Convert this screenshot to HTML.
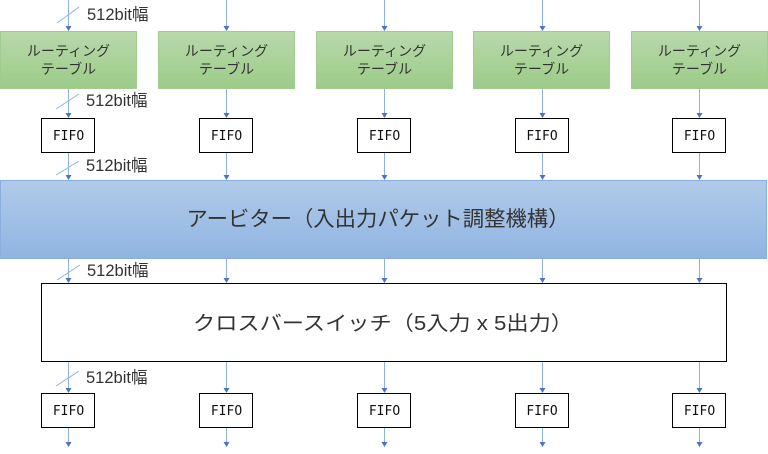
<!DOCTYPE html>
<html><head><meta charset="utf-8"><style>
html,body{margin:0;padding:0;background:#fff;}
svg{display:block;}
text{font-family:"Liberation Sans","Noto Sans CJK JP",sans-serif;fill:#333;}
.mono{font-family:"DejaVu Sans Mono","Liberation Mono",monospace;fill:#111;}
</style></head><body>
<svg width="768" height="454" viewBox="0 0 768 454" xmlns="http://www.w3.org/2000/svg">
<defs>
<linearGradient id="g" x1="0" y1="0" x2="0" y2="1"><stop offset="0" stop-color="#b9d9ab"/><stop offset="1" stop-color="#9ccb88"/></linearGradient>
<linearGradient id="b" x1="0" y1="0" x2="0" y2="1"><stop offset="0" stop-color="#b0cbea"/><stop offset="1" stop-color="#90b4e1"/></linearGradient>
</defs>
<g id="c">
<g stroke="#8fb0e6" stroke-width="1" fill="none">
<line x1="68.5" y1="0" x2="68.5" y2="27"/>
<line x1="68.5" y1="88" x2="68.5" y2="114"/>
<line x1="68.5" y1="152" x2="68.5" y2="176"/>
<line x1="68.5" y1="259" x2="68.5" y2="279"/>
<line x1="68.5" y1="362" x2="68.5" y2="389"/>
<line x1="68.5" y1="428" x2="68.5" y2="443"/>
</g>
<g fill="#4a74c6">
<polygon points="65.5,26 71.5,26 68.5,31"/>
<polygon points="65.5,113 71.5,113 68.5,118"/>
<polygon points="65.5,175 71.5,175 68.5,180"/>
<polygon points="65.5,278 71.5,278 68.5,283"/>
<polygon points="65.5,388 71.5,388 68.5,393"/>
<polygon points="65.5,442 71.5,442 68.5,447"/>
</g>
</g>
<use href="#c" x="158"/>
<use href="#c" x="316"/>
<use href="#c" x="474"/>
<use href="#c" x="631"/>
<g stroke="#8fb0e6" stroke-width="1" fill="none">
<line x1="57" y1="23" x2="79" y2="7"/>
<line x1="56" y1="109" x2="79" y2="94"/>
<line x1="56" y1="175" x2="79" y2="161"/>
<line x1="57" y1="280" x2="80" y2="265"/>
<line x1="56" y1="386" x2="79" y2="371"/>
</g>
<!-- routing tables -->
<g stroke="#a2cb92" stroke-width="1" fill="url(#g)">
<rect x="0.5" y="31.5" width="136" height="57"/>
<rect x="158.5" y="31.5" width="136" height="57"/>
<rect x="316.5" y="31.5" width="136" height="57"/>
<rect x="473.5" y="31.5" width="136" height="57"/>
<rect x="631.5" y="31.5" width="136" height="57"/>
</g>
<g font-size="14" text-anchor="middle">
<text x="68.5" y="56">ルーティング</text><text x="68.5" y="74">テーブル</text>
<text x="226.5" y="56">ルーティング</text><text x="226.5" y="74">テーブル</text>
<text x="384.5" y="56">ルーティング</text><text x="384.5" y="74">テーブル</text>
<text x="541.5" y="56">ルーティング</text><text x="541.5" y="74">テーブル</text>
<text x="699.5" y="56">ルーティング</text><text x="699.5" y="74">テーブル</text>
</g>
<!-- FIFO boxes -->
<g stroke="#000" stroke-width="1" fill="#fff">
<rect x="41.5" y="118.5" width="53" height="34"/>
<rect x="199.5" y="118.5" width="53" height="34"/>
<rect x="357.5" y="118.5" width="53" height="34"/>
<rect x="515.5" y="118.5" width="53" height="34"/>
<rect x="672.5" y="118.5" width="53" height="34"/>
<rect x="41.5" y="393.5" width="53" height="34"/>
<rect x="199.5" y="393.5" width="53" height="34"/>
<rect x="357.5" y="393.5" width="53" height="34"/>
<rect x="515.5" y="393.5" width="53" height="34"/>
<rect x="672.5" y="393.5" width="53" height="34"/>
</g>
<g font-size="13" text-anchor="middle">
<text class="mono" x="68.5" y="140">FIFO</text>
<text class="mono" x="226.5" y="140">FIFO</text>
<text class="mono" x="384.5" y="140">FIFO</text>
<text class="mono" x="542" y="140">FIFO</text>
<text class="mono" x="699.5" y="140">FIFO</text>
<text class="mono" x="68.5" y="415">FIFO</text>
<text class="mono" x="226.5" y="415">FIFO</text>
<text class="mono" x="384.5" y="415">FIFO</text>
<text class="mono" x="542" y="415">FIFO</text>
<text class="mono" x="699.5" y="415">FIFO</text>
</g>
<!-- arbiter -->
<rect x="0.5" y="180.5" width="766" height="78" fill="url(#b)" stroke="#8aaedd" stroke-width="1"/>
<text x="378" y="226" font-size="21" text-anchor="middle" textLength="383" lengthAdjust="spacingAndGlyphs">アービター（入出力パケット調整機構）</text>
<!-- crossbar -->
<rect x="41.5" y="283.5" width="685" height="78" fill="#fff" stroke="#000" stroke-width="1"/>
<text x="383" y="330" font-size="20" text-anchor="middle" textLength="380" lengthAdjust="spacingAndGlyphs">クロスバースイッチ（5入力 x 5出力）</text>
<!-- labels -->
<g font-size="16.5">
<text x="87" y="20">512bit幅</text>
<text x="86" y="106">512bit幅</text>
<text x="86" y="171">512bit幅</text>
<text x="87" y="276">512bit幅</text>
<text x="86" y="383">512bit幅</text>
</g>
</svg>
</body></html>
